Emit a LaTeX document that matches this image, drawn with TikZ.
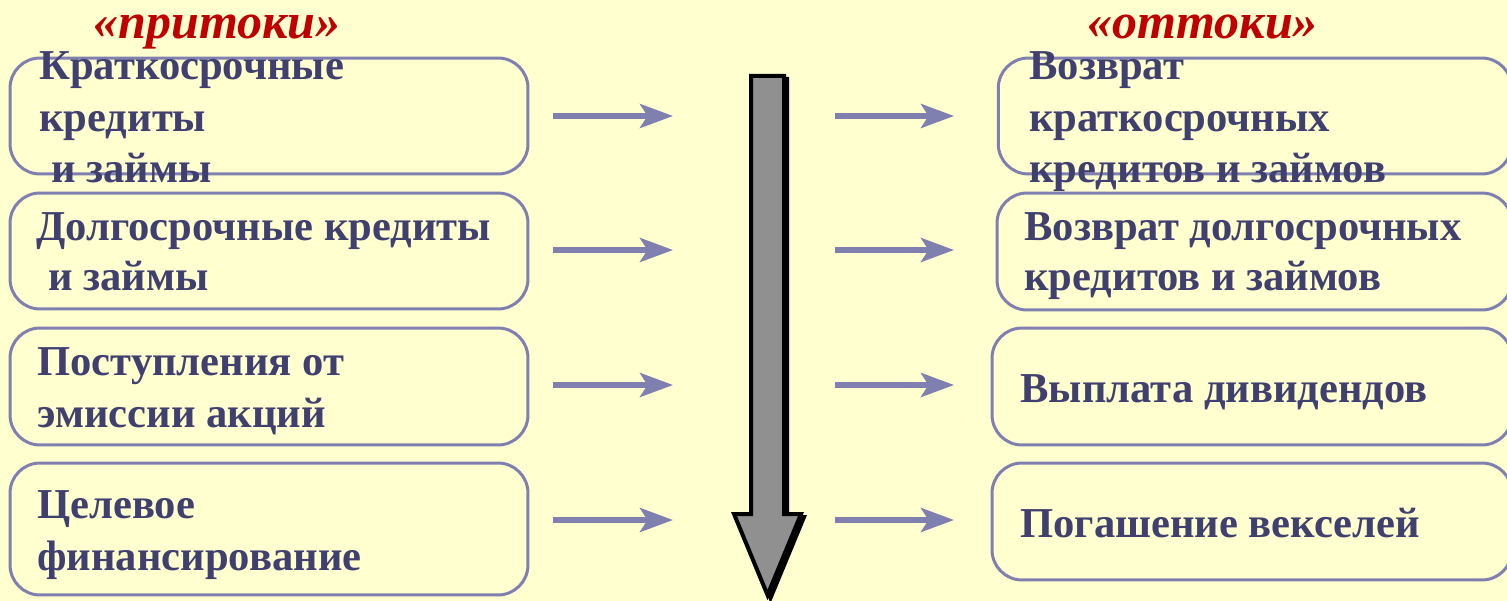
\documentclass[tikz,border=0pt]{standalone}
\usepackage{fontspec}
\setmainfont{Liberation Serif}
\usetikzlibrary{arrows.meta,positioning,calc}
\definecolor{bgyellow}{RGB}{255,255,208}
\definecolor{boxblue}{RGB}{128,128,176}
\definecolor{txtblue}{RGB}{64,64,112}
\definecolor{titlered}{RGB}{192,0,0}
\definecolor{bigarrow}{RGB}{144,144,144}

\begin{document}
\begin{tikzpicture}
[x=0.02cm,y=-0.02cm,
    box/.style={draw=boxblue,line width=0.06cm,rounded corners=0.6cm,inner sep=0pt,
    minimum width=10.36cm,minimum height=2.32cm},
    lab/.style={anchor=base west,align=left,text=txtblue,inner sep=0pt,
    font=\fontsize{24.25}{25}\bfseries},
    ttl/.style={anchor=base west,inner sep=0pt,text=titlered,
    font=\fontsize{28.5}{32}\bfseries\itshape},
    flow/.style={boxblue,line width=0.11cm,-{Stealth[length=0.66cm,width=0.48cm,inset=0.15cm]}}]
%%%%%%%%%%
\fill[bgyellow] (0,0) rectangle (1507,601);
\useasboundingbox (0,0) rectangle (1507,601);
%% titles
\node (tin) [ttl] at (93,39) {«притоки»};
\node (tout) [ttl] at (1087,39) {«оттоки»};
%% inflows
\node (in1) [box] at (269,116) {};
\node (in2) [box] at (269,251) {};
\node (in3) [box,minimum height=2.34cm] at (269,386.5) {};
\node (in4) [box,minimum height=2.64cm] at (269,529) {};
\node (lin1a) [lab] at (39,80) {Краткосрочные};
\node (lin1b) [lab] at (39,132) {кредиты};
\node (lin1c) [lab] at (51,183) {и займы};
\node (lin2a) [lab] at (36,240) {Долгосрочные кредиты};
\node (lin2b) [lab] at (48,290) {и займы};
\node (lin3a) [lab] at (37,375) {Поступления от};
\node (lin3b) [lab] at (37,427) {эмиссии акций};
\node (lin4a) [lab] at (37,518) {Целевое};
\node (lin4b) [lab] at (37,570) {финансирование};
%% outflows
\node (out1) [box,minimum width=10.27cm] at (1255,116) {};
\node (out2) [box,minimum width=10.3cm,minimum height=2.34cm] at (1254.5,251.5) {};
\node (out3) [box,minimum width=10.4cm,minimum height=2.34cm] at (1252,386.5) {};
\node (out4) [box,minimum width=10.4cm,minimum height=2.34cm] at (1252,521.5) {};
\node (lout1a) [lab] at (1029,80) {Возврат};
\node (lout1b) [lab] at (1029,132) {краткосрочных};
\node (lout1c) [lab] at (1029,183) {кредитов и займов};
\node (lout2a) [lab] at (1024,240) {Возврат долгосрочных};
\node (lout2b) [lab] at (1024,290) {кредитов и займов};
\node (lout3) [lab] at (1020,402) {Выплата дивидендов};
\node (lout4) [lab] at (1020,537) {Погашение векселей};
%% small arrows
\coordinate (a1) at (553,116); \coordinate (b1) at (673,116);
\coordinate (a2) at (553,250); \coordinate (b2) at (673,250);
\coordinate (a3) at (553,385); \coordinate (b3) at (673,385);
\coordinate (a4) at (553,520); \coordinate (b4) at (673,520);
\coordinate (c1) at (835,116); \coordinate (d1) at (954,116);
\coordinate (c2) at (835,250); \coordinate (d2) at (954,250);
\coordinate (c3) at (835,385); \coordinate (d3) at (954,385);
\coordinate (c4) at (835,520); \coordinate (d4) at (954,520);
\draw[flow] (a1) -- (b1);
\draw[flow] (a2) -- (b2);
\draw[flow] (a3) -- (b3);
\draw[flow] (a4) -- (b4);
\draw[flow] (c1) -- (d1);
\draw[flow] (c2) -- (d2);
\draw[flow] (c3) -- (d3);
\draw[flow] (c4) -- (d4);
%% big arrow
\draw[line width=0.08cm,fill=black,shift={(3,3)}] (751,76) -- (784,76) -- (784,514)
-- (801,514) -- (767.5,595) -- (734,514) -- (751,514) -- cycle;
\draw[line width=0.08cm,fill=bigarrow] (751,76) -- (784,76) -- (784,514)
-- (801,514) -- (767.5,595) -- (734,514) -- (751,514) -- cycle;
\end{tikzpicture}
\end{document}
